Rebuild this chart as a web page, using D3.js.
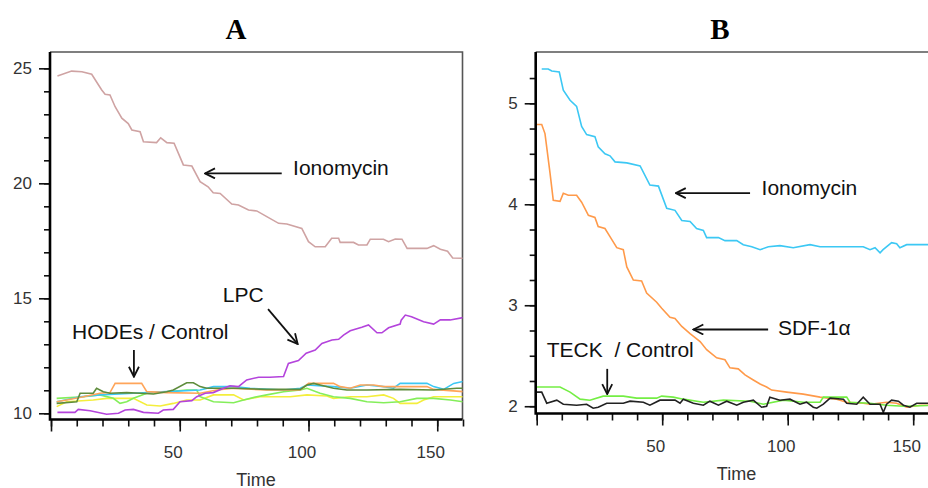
<!DOCTYPE html>
<html>
<head>
<meta charset="utf-8">
<script src="https://cdn.jsdelivr.net/npm/d3@7"></script>
<style>
  body { margin: 0; background: #fff; }
  svg { display: block; }
  .tick text { font-family: "Liberation Sans", Arial, sans-serif; font-size: 17px; fill: #333; }
  .note { font-family: "Liberation Sans", Arial, sans-serif; font-size: 21px; fill: #111; }
</style>
</head>
<body>
<svg id="chart" width="928" height="488"></svg>
<script>
// ---- data: [time, value]
const ionoA = [[2.5,24.67],[8,24.88],[12,24.85],[15.8,24.74],[19.7,24.06],[21,23.87],[22.9,23.84],[24.9,23.33],
  [27.5,22.83],[30,22.6],[31.4,22.32],[34.6,22.24],[35.9,21.81],[41,21.77],[42.6,21.98],[45,21.77],[47.8,21.74],
  [51.4,20.8],[54.7,20.75],[57.9,20.07],[61,19.85],[63,19.59],[65.7,19.56],[70.2,19.1],[72.8,19.06],[76.7,18.84],
  [79.9,18.8],[83.8,18.55],[88.4,18.26],[91.6,18.23],[97.4,18.04],[100,17.46],[102.6,17.24],[106.5,17.24],
  [109,17.61],[111.7,17.61],[112.3,17.43],[117.5,17.43],[119.4,17.32],[122.7,17.32],[124,17.57],[129.1,17.57],
  [131.1,17.46],[133.7,17.58],[136.3,17.57],[138.3,17.17],[146,17.17],[148.6,17.29],[151.2,17.13],[154,17.05],
  [156,16.75],[160,16.74]];
const lpcA = [[2.5,10.04],[9.3,10.04],[10.6,10.17],[15.2,10.11],[21.6,9.96],[26.2,10.0],[28.8,10.14],[32,10.17],
  [35.9,10.04],[41.7,10.0],[43.6,10.14],[47.5,10.17],[50.1,10.5],[54.7,10.55],[56.6,10.72],[59.9,10.87],[63,10.9],
  [67,11.09],[69.5,11.2],[72.8,11.16],[76,11.45],[80.6,11.57],[85,11.57],[90.3,11.6],[92.2,12.17],[96.1,12.29],
  [99.1,12.61],[102.6,12.75],[105.2,13.04],[109.1,13.19],[111.7,13.22],[113.6,13.4],[116.2,13.59],[120.7,13.74],
  [123.3,13.84],[126.6,13.5],[128.5,13.5],[131.1,13.72],[135.6,13.88],[136,14.05],[137.6,14.27],[140,14.2],
  [144.7,13.98],[148.6,13.88],[151.2,14.06],[155,14.06],[160,14.16]];
const oliveA = [[2.2,10.43],[10,10.5],[11.3,10.87],[16.4,10.87],[17.7,11.09],[20.3,10.94],[22.9,10.87],[29.4,10.9],
  [34.6,10.87],[39.8,10.84],[44.9,10.94],[47.5,11.01],[52.7,11.33],[55.3,11.33],[57.9,11.16],[60.5,11.09],
  [70.9,11.09],[83.8,11.04],[96.8,11.04],[99.4,11.23],[102,11.3],[104.5,11.23],[109.7,11.09],[114.9,11.01],
  [122.7,11.01],[135.6,11.04],[148.6,11.01],[157.6,11.09],[160,11.09]];
const cyanA = [[2.2,10.5],[11.3,10.72],[19,10.8],[32,10.87],[44.9,10.94],[57.9,11.01],[63.1,11.16],[70.9,11.16],
  [77.3,11.09],[90.3,11.01],[96.8,11.09],[99.4,11.23],[109.7,11.16],[116.2,11.09],[122.7,11.23],[129.2,11.16],
  [133,11.09],[135.6,11.3],[146,11.3],[148.6,11.16],[152.5,11.04],[156.4,11.3],[160,11.38]];
const orangeA = [[2.2,10.5],[6.1,10.58],[12.6,10.72],[19,10.87],[22.9,10.9],[24.9,11.3],[35.2,11.3],[37.2,10.94],
  [44.9,10.9],[57.9,10.87],[64.4,11.01],[70.9,11.09],[83.8,11.01],[96.8,11.01],[100,11.3],[109.7,11.3],
  [112.3,11.16],[116.2,11.09],[120.1,11.23],[125.3,11.23],[129.2,11.16],[146,11.16],[148.6,11.04],[160,10.94]];
const greenA = [[2.2,10.65],[12.6,10.72],[19,10.8],[24.2,10.65],[26.8,10.43],[29.4,10.5],[32,10.65],[37.2,10.87],
  [44.9,10.94],[52.7,11.01],[56.6,11.01],[57.9,10.72],[63.1,10.5],[70.9,10.46],[74.8,10.58],[79.9,10.72],
  [83.8,10.8],[90.3,10.94],[96.8,11.01],[99.4,11.09],[104.5,10.87],[109.7,10.72],[116.2,10.65],[122.7,10.5],
  [129.2,10.46],[135.6,10.5],[142.1,10.65],[148.6,10.65],[155.1,10.58],[160,10.5]];
const yellowA = [[2.2,10.29],[6.1,10.5],[16.4,10.58],[21.6,10.65],[32,10.65],[37.2,10.36],[42.4,10.32],[47.5,10.43],
  [52.7,10.58],[57.9,10.58],[63.1,10.8],[70.9,10.8],[74.8,10.58],[81.2,10.72],[92.9,10.72],[99.4,10.8],
  [107.1,10.75],[109.7,10.65],[116.2,10.72],[122.7,10.72],[129.2,10.8],[133,10.65],[135.6,10.43],[142.1,10.43],
  [144.7,10.58],[148.6,10.72],[160,10.72]];

const ionoB = [[2,5.34],[4.6,5.34],[6,5.32],[9,5.31],[10.6,5.13],[13.3,5.03],[15.9,4.97],[17.9,4.77],[19.9,4.69],
  [23.2,4.67],[24.5,4.57],[27.2,4.5],[29.2,4.48],[31.2,4.42],[35.9,4.41],[41.2,4.38],[45.1,4.19],[48.5,4.18],
  [51.8,3.96],[55.1,3.94],[57.8,3.84],[61.1,3.83],[63.7,3.76],[66.4,3.74],[67.7,3.67],[72.4,3.67],[75,3.64],
  [79.7,3.64],[82.3,3.6],[85.7,3.58],[89,3.55],[92.3,3.58],[96.9,3.59],[102.2,3.57],[108.9,3.6],[112.9,3.58],
  [119.5,3.58],[130.1,3.58],[132.8,3.55],[134.8,3.57],[136.8,3.52],[138,3.55],[141.4,3.62],[143.4,3.61],
  [144.7,3.57],[147.4,3.6],[150,3.6],[160,3.6]];
const sdfB = [[0,4.79],[2,4.79],[3.3,4.7],[5.3,4.31],[6.6,4.04],[9.3,4.03],[10.6,4.11],[12.6,4.09],[15.9,4.09],
  [17.9,4.02],[20.6,3.89],[23.2,3.87],[24.5,3.78],[27.2,3.76],[29.2,3.68],[31.9,3.57],[34.5,3.55],[35.9,3.38],
  [38.5,3.25],[41.8,3.24],[43.8,3.12],[47.8,3.03],[49.8,2.97],[53.1,2.88],[55.1,2.87],[57.8,2.79],[61.1,2.72],
  [65.1,2.64],[67.7,2.56],[71.7,2.48],[75,2.46],[77,2.38],[80.3,2.37],[83,2.31],[86.3,2.26],[89,2.22],[91.6,2.19],
  [93.6,2.16],[99.6,2.14],[106.2,2.12],[112.9,2.09],[119.5,2.07],[123.5,2.04],[130.1,2.03],[132.8,2.02],
  [139.4,2.04],[143.4,2.03],[147.4,1.99],[152.7,2.01],[160,2.01]];
const greenB = [[0,2.19],[9.3,2.19],[13.3,2.14],[17.3,2.07],[21.2,2.06],[26.5,2.1],[34.5,2.1],[39.8,2.08],[47.8,2.08],
  [49.8,2.1],[54.4,2.09],[58.4,2.07],[66.4,2.04],[74.4,2.06],[85,2.05],[90.3,2.02],[98.3,2.06],[106.2,2.04],
  [112.9,2.04],[114.2,2.09],[123.5,2.09],[124.8,2.04],[132.8,2.03],[139.4,2.01],[146.1,2.0],[160,2.01]];
const blackB = [[0,2.14],[2,2.14],[4,2.03],[8,2.06],[10.6,2.02],[15.9,2.01],[19.9,2.02],[22.5,1.98],[24.5,1.99],
  [27.9,2.03],[34.5,2.03],[37.2,2.05],[42.5,2.04],[45.1,2.01],[49.1,2.06],[55.1,2.06],[57.1,2.03],[58.4,2.07],
  [62.4,2.03],[66.4,2.01],[69,2.05],[72.4,2.01],[75.7,2.05],[79.7,2.01],[82.3,2.04],[86.3,2.06],[89.6,1.99],
  [91.6,2.0],[92.9,2.09],[96.9,2.06],[100.9,2.07],[104.9,2.02],[107.5,2.04],[110.2,1.99],[111.6,1.98],
  [114.2,2.02],[116.9,2.08],[122.2,2.07],[123.5,2.03],[127.5,2.02],[130.1,2.09],[132.8,2.02],[136.8,2.02],
  [138.1,1.94],[139.4,2.02],[141.4,2.06],[144.1,2.05],[146.1,2.01],[148.7,1.99],[151.4,2.03],[160,2.03]];

const panels = [
  {
    title: 'A', titleX: 236, left: 50, right: 462.5, top: 52, bottom: 419.5,
    xRange: [51, 463], yDomain: [9.73, 25.71],
    minorY: d3.range(10, 25.5, 1), majorY: [10, 15, 20, 25],
    series: [
      {data: yellowA, color: '#f4ee3c'},
      {data: greenA, color: '#84ee5a'},
      {data: cyanA, color: '#3cc8f4'},
      {data: orangeA, color: '#ffa55a'},
      {data: oliveA, color: '#5e8c3c'},
      {data: lpcA, color: '#b444dc'},
      {data: ionoA, color: '#cfa3a3'}
    ],
    notes: [
      {text: 'Ionomycin', at: [94, 20.36], from: [89.6, 20.43], to: [59.8, 20.43]},
      {text: 'LPC', at: [66.7, 14.84], from: [84.3, 14.53], to: [95.8, 13.01]},
      {text: 'HODEs / Control', at: [8.2, 13.22], from: [32.2, 12.75], to: [32.2, 11.59]}
    ]
  },
  {
    title: 'B', titleX: 720, left: 535.7, right: 940, top: 52, bottom: 413.5,
    xRange: [536.7, 938.3], yDomain: [1.928, 5.508],
    minorY: d3.range(2, 5.3, 0.25), majorY: [2, 3, 4, 5],
    series: [
      {data: ionoB, color: '#3cc8f4'},
      {data: sdfB, color: '#ff9a4a'},
      {data: greenB, color: '#74ee44'},
      {data: blackB, color: '#222222'}
    ],
    notes: [
      {text: 'Ionomycin', at: [89.6, 4.09], from: [85, 4.11], to: [55.4, 4.11]},
      {text: 'SDF-1\u03b1', at: [96.1, 2.71], from: [92.2, 2.76], to: [62.4, 2.76]},
      {text: 'TECK\u00a0 / Control', at: [4, 2.49], from: [28.1, 2.37], to: [28.1, 2.12]}
    ]
  }
];

const minorX = d3.range(0, 161, 10);
const majorX = [0, 50, 100, 150];

const svg = d3.select('#chart');

svg.append('defs').append('marker')
    .attr('id', 'arrow')
    .attr('viewBox', '0 -6 12 12')
    .attr('refX', 11)
    .attr('refY', 0)
    .attr('markerWidth', 12)
    .attr('markerHeight', 12)
    .attr('markerUnits', 'userSpaceOnUse')
    .attr('orient', 'auto')
  .append('path')
    .attr('d', 'M1,-5L11,0L1,5')
    .attr('fill', 'none')
    .attr('stroke', '#111')
    .attr('stroke-width', 1.8);

panels.forEach((p, i) => {
    const g = svg.append('g').attr('class', 'panel-' + p.title);

    const x = d3.scaleLinear().domain([0, 160]).range(p.xRange);
    const y = d3.scaleLinear().domain(p.yDomain).range([p.bottom, p.top]);

    g.append('clipPath').attr('id', 'clip' + i)
      .append('rect')
        .attr('x', p.left).attr('y', p.top)
        .attr('width', p.right - p.left).attr('height', p.bottom - p.top);

    // top and right frame
    g.append('path')
        .attr('d', `M${p.left},${p.top}H${p.right}V${p.bottom}`)
        .attr('fill', 'none')
        .attr('stroke', '#555')
        .attr('stroke-width', 1.6);

    const line = d3.line().x(d => x(d[0])).y(d => y(d[1]));
    g.append('g').attr('clip-path', `url(#clip${i})`)
      .selectAll('path')
      .data(p.series)
      .join('path')
        .attr('d', d => line(d.data))
        .attr('fill', 'none')
        .attr('stroke', d => d.color)
        .attr('stroke-width', 1.6);

    // y axis: minor then major
    g.append('g')
        .attr('transform', `translate(${p.left},0)`)
        .call(d3.axisLeft(y).tickValues(p.minorY).tickSize(6).tickFormat(''))
        .call(a => a.select('.domain').remove());
    const yAxis = g.append('g')
        .attr('transform', `translate(${p.left},0)`)
        .call(d3.axisLeft(y).tickValues(p.majorY).tickSize(11).tickPadding(7).tickFormat(d3.format('d')));
    yAxis.select('.domain').remove();

    // x axis
    g.append('g')
        .attr('transform', `translate(0,${p.bottom})`)
        .call(d3.axisBottom(x).tickValues(minorX).tickSize(7).tickFormat(''))
        .call(a => a.select('.domain').remove());
    const xAxis = g.append('g')
        .attr('transform', `translate(0,${p.bottom})`)
        .call(d3.axisBottom(x).tickValues(majorX).tickSize(12).tickPadding(14)
            .tickFormat(d => d === 0 ? '' : d));
    xAxis.select('.domain').remove();
    xAxis.selectAll('text').attr('dx', -7);

    g.selectAll('.tick line').attr('stroke', '#111').attr('stroke-width', 1.6);

    // heavy left and bottom axis lines
    g.append('path')
        .attr('d', `M${p.left},${p.top}V${p.bottom}H${p.right}`)
        .attr('fill', 'none')
        .attr('stroke', '#000')
        .attr('stroke-width', 2.6);

    // titles
    g.append('text')
        .attr('x', p.titleX)
        .attr('y', 39)
        .attr('text-anchor', 'middle')
        .attr('font-family', '"Liberation Serif", "Times New Roman", serif')
        .attr('font-weight', 'bold')
        .attr('font-size', '29px')
        .text(p.title);

    g.append('text')
        .attr('x', x(80) - 1)
        .attr('y', p.bottom + 66)
        .attr('text-anchor', 'middle')
        .attr('font-family', '"Liberation Sans", Arial, sans-serif')
        .attr('font-size', '18px')
        .attr('fill', '#333')
        .text('Time');

    // annotations
    const notes = g.append('g');
    notes.selectAll('text')
      .data(p.notes)
      .join('text')
        .attr('class', 'note')
        .attr('x', d => x(d.at[0]))
        .attr('y', d => y(d.at[1]))
        .text(d => d.text);
    notes.selectAll('line')
      .data(p.notes)
      .join('line')
        .attr('x1', d => x(d.from[0])).attr('y1', d => y(d.from[1]))
        .attr('x2', d => x(d.to[0])).attr('y2', d => y(d.to[1]))
        .attr('stroke', '#111')
        .attr('stroke-width', 1.8)
        .attr('marker-end', 'url(#arrow)');
});
</script>
</body>
</html>
